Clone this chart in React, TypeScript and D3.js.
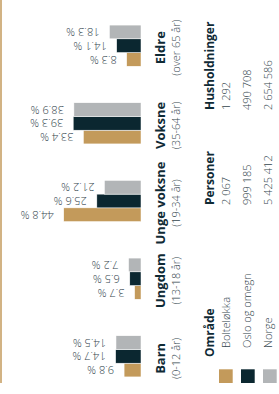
import * as d3 from 'd3';

const categories = ['Barn', 'Ungdom', 'Unge voksne', 'Voksne', 'Eldre'];
const ageRanges = ['(0-12 år)', '(13-18 år)', '(19-34 år)', '(35-64 år)', '(over 65 år)'];
const areas = ['Bolteløkka', 'Oslo og omegn', 'Norge'];
const bolteokka = [9.8, 3.7, 44.8, 33.4, 8.3];
const osloOgOmegn = [14.7, 6.5, 25.6, 39.3, 14.1];
const norge = [14.5, 7.2, 21.2, 38.9, 18.3];
const personer = ['2 067', '999 185', '5 425 412'];
const husholdninger = ['1 292', '490 708', '2 654 586'];

const W = 279;
const H = 394;
const colors = ['#c39a5b', '#0b2730', '#b2b5b7'];
const textColor = '#0f2a35';
const lightText = '#33454d';
const font = '"Open Sans", sans-serif';

export default function App() {
  const series = [bolteokka, osloOgOmegn, norge];
  // chart is drawn in an unrotated frame (width H, height W) and turned -90deg
  const x0 = d3.scaleBand().domain(categories).range([0, 386]).paddingInner(0.47).paddingOuter(0.22);
  const x1 = d3.scaleBand().domain(areas).range([0, x0.bandwidth()]);
  const y = d3.scaleLinear().domain([0, 80]).range([141, 3]);
  const fmt = (v: number) => `${v.toFixed(1)} %`;

  const rowY = [230, 251, 272];
  const swatchY = [219, 241, 263];

  return (
    <svg width={W} height={H} style={{ position: 'absolute', left: 0, top: 0 }} fontFamily={font}>
      <rect width={W} height={H} fill="#fff" />
      <g transform={`translate(0,${H}) rotate(-90)`}>
        <line x1={11} x2={H} y1={1} y2={1} stroke={colors[0]} strokeWidth={1.5} />
        {categories.map((c, i) => (
          <g key={c} transform={`translate(${x0(c)},0)`}>
            {series.map((s, j) => {
              const u = x1(areas[j])!;
              const bw = x1.bandwidth();
              return (
                <g key={j}>
                  <rect x={u} y={y(s[i])} width={bw} height={y(0) - y(s[i])} fill={colors[j]} stroke="#fff" strokeWidth={0.5} />
                  <text
                    transform={`translate(${u + bw / 2},${y(s[i]) - 10}) rotate(-90)`}
                    dy="0.35em"
                    fontSize={11}
                    fontWeight={300}
                    fill={lightText}
                  >
                    {fmt(s[i])}
                  </text>
                </g>
              );
            })}
            <text x={x0.bandwidth() / 2 - 2} y={165} textAnchor="middle" fontSize={13} fontWeight={700} fill={textColor}>
              {c}
            </text>
            <text x={x0.bandwidth() / 2 - 2} y={180} textAnchor="middle" fontSize={11} fontWeight={300} fill={lightText}>
              {ageRanges[i]}
            </text>
          </g>
        ))}

        <text x={37} y={214} fontSize={12} fontWeight={700} fill={textColor}>Område</text>
        <text x={189} y={214} fontSize={12} fontWeight={700} fill={textColor}>Personer</text>
        <text x={284} y={214} fontSize={12} fontWeight={700} fill={textColor}>Husholdninger</text>
        {areas.map((a, k) => (
          <g key={a}>
            <rect x={11} y={swatchY[k]} width={13.7} height={13.7} fill={colors[k]} />
            <text x={46} y={rowY[k]} fontSize={11} fontWeight={300} fill={lightText}>{a}</text>
            <text x={189} y={rowY[k]} fontSize={11} fontWeight={300} fill={lightText}>{personer[k]}</text>
            <text x={284} y={rowY[k]} fontSize={11} fontWeight={300} fill={lightText}>{husholdninger[k]}</text>
          </g>
        ))}
      </g>
    </svg>
  );
}
